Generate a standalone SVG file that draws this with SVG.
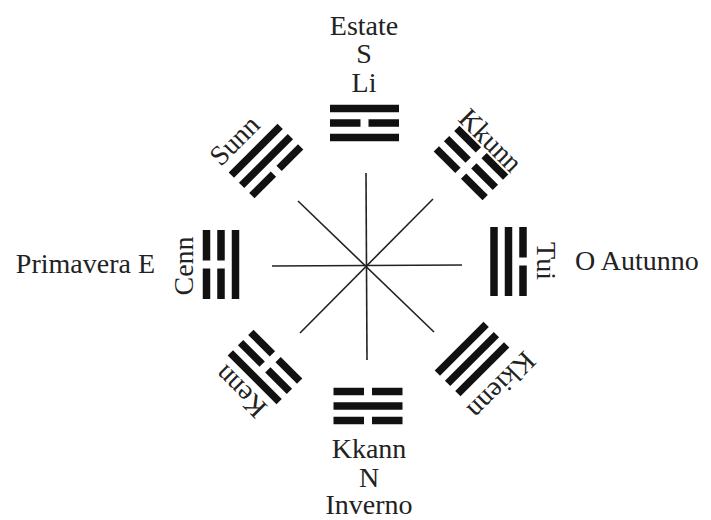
<svg xmlns="http://www.w3.org/2000/svg" xmlns:xlink="http://www.w3.org/1999/xlink" width="711" height="520" viewBox="0 0 711 520">
  <style>
    .lbl { font-family: "Liberation Serif", "Times New Roman", serif; font-size: 28px; fill: #222; }
    .mid { text-anchor: middle; }
    .end { text-anchor: end; }
    .bar { fill: #111; }
    .ray { stroke: #222; stroke-width: 1.6; stroke-linecap: butt; }
  </style>
  <defs>
    <!-- one trigram line, centred on the origin, 69 long and 7.5 thick -->
    <g id="yang"><rect class="bar" x="-34.5" y="-3.75" width="69" height="7.5"/></g>
    <g id="yin">
      <rect class="bar" x="-34.5" y="-3.75" width="30.5" height="7.5"/>
      <rect class="bar" x="4" y="-3.75" width="30.5" height="7.5"/>
    </g>
  </defs>

  <rect width="711" height="520" fill="#fff"/>

  <!-- eight rays from the centre -->
  <g id="connectors">
    <line class="ray" x1="366" y1="173" x2="367" y2="360"/>
    <line class="ray" x1="272" y1="266" x2="462" y2="265"/>
    <line class="ray" x1="298" y1="201" x2="434" y2="332"/>
    <line class="ray" x1="433" y1="199" x2="300" y2="333"/>
  </g>

  <!-- trigrams: local y=-14.5 is the outer (top) line, y=+14.5 the inner (bottom) line -->
  <g id="li" transform="translate(364.5,123)">
    <use xlink:href="#yang" href="#yang" y="-14.5"/>
    <use xlink:href="#yin" href="#yin"/>
    <use xlink:href="#yang" href="#yang" y="14.5"/>
  </g>
  <g id="kkunn" transform="translate(471,163) rotate(45)">
    <use xlink:href="#yin" href="#yin" y="-14.5"/>
    <use xlink:href="#yin" href="#yin"/>
    <use xlink:href="#yin" href="#yin" y="14.5"/>
  </g>
  <g id="tui" transform="translate(508.5,261.5) rotate(90)">
    <use xlink:href="#yin" href="#yin" y="-14.5"/>
    <use xlink:href="#yang" href="#yang"/>
    <use xlink:href="#yang" href="#yang" y="14.5"/>
  </g>
  <g id="kkienn" transform="translate(472,359) rotate(135)">
    <use xlink:href="#yang" href="#yang" y="-14.5"/>
    <use xlink:href="#yang" href="#yang"/>
    <use xlink:href="#yang" href="#yang" y="14.5"/>
  </g>
  <g id="kkann" transform="translate(368,406) rotate(180)">
    <use xlink:href="#yin" href="#yin" y="-14.5"/>
    <use xlink:href="#yang" href="#yang"/>
    <use xlink:href="#yin" href="#yin" y="14.5"/>
  </g>
  <g id="kenn" transform="translate(265,367) rotate(225)">
    <use xlink:href="#yang" href="#yang" y="-14.5"/>
    <use xlink:href="#yin" href="#yin"/>
    <use xlink:href="#yin" href="#yin" y="14.5"/>
  </g>
  <g id="cenn" transform="translate(221,264.5) rotate(270)">
    <use xlink:href="#yin" href="#yin" y="-14.5"/>
    <use xlink:href="#yin" href="#yin"/>
    <use xlink:href="#yang" href="#yang" y="14.5"/>
  </g>
  <g id="sunn" transform="translate(266,161) rotate(315)">
    <use xlink:href="#yang" href="#yang" y="-14.5"/>
    <use xlink:href="#yang" href="#yang"/>
    <use xlink:href="#yin" href="#yin" y="14.5"/>
  </g>

  <!-- labels -->
  <g id="labels">
    <text class="lbl mid" x="364" y="35">Estate</text>
    <text class="lbl mid" x="364" y="63">S</text>
    <text class="lbl mid" x="364" y="92">Li</text>

    <text class="lbl mid" x="369" y="458">Kkann</text>
    <text class="lbl mid" x="369" y="487">N</text>
    <text class="lbl mid" x="369" y="514">Inverno</text>

    <text class="lbl end" x="155" y="273">Primavera E</text>
    <text class="lbl" x="575" y="270">O Autunno</text>

    <text class="lbl mid" transform="translate(193,266) rotate(-90)">Cenn</text>
    <text class="lbl mid" transform="translate(537,261) rotate(90)">Tui</text>
    <text class="lbl mid" transform="translate(241,147) rotate(-45)">Sunn</text>
    <text class="lbl mid" transform="translate(484,147) rotate(45)">Kkunn</text>
    <text class="lbl mid" transform="translate(247,385) rotate(-135)">Kenn</text>
    <text class="lbl mid" transform="translate(495,379) rotate(135)">Kkienn</text>
  </g>
</svg>
